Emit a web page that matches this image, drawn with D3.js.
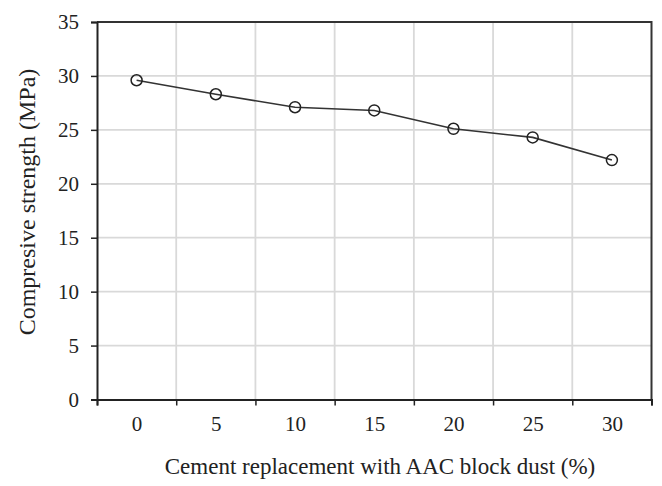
<!DOCTYPE html>
<html>
<head>
<meta charset="utf-8">
<script src="https://cdn.jsdelivr.net/npm/d3@7"></script>
<style>
  body { margin: 0; background: #fff; }
  svg text { font-family: "Liberation Serif", "Times New Roman", Times, "DejaVu Serif", serif; fill: #222; }
</style>
</head>
<body>
<div id="chart"></div>
<script>
// data
var replacement = [0, 5, 10, 15, 20, 25, 30];
var strength = [29.6, 28.3, 27.1, 26.8, 25.1, 24.3, 22.2];
var yTicks = [0, 5, 10, 15, 20, 25, 30, 35];
var xEdges = [-2.5, 2.5, 7.5, 12.5, 17.5, 22.5, 27.5, 32.5];

var serif = "Liberation Serif, Times New Roman, Times, DejaVu Serif, serif";

var W = 662, H = 486;
var margin = {top: 22, right: 10.5, bottom: 86.5, left: 97},
  width = W - margin.left - margin.right,
  height = H - margin.top - margin.bottom;

var svg = d3.select("#chart")
  .append("svg")
    .attr("width", W)
    .attr("height", H)
  .append("g")
    .attr("transform", "translate(" + margin.left + "," + margin.top + ")");

var x = d3.scaleLinear().domain([-2.5, 32.5]).range([0, width]);
var y = d3.scaleLinear().domain([0, 35]).range([height, 0]);

// gridlines
svg.append("g")
  .selectAll("line")
  .data(yTicks.slice(1, -1))
  .enter()
  .append("line")
    .attr("x1", 0).attr("x2", width)
    .attr("y1", function (d) { return y(d); })
    .attr("y2", function (d) { return y(d); })
    .style("stroke", "#d9d9d9")
    .style("stroke-width", 1.8);

svg.append("g")
  .selectAll("line")
  .data(xEdges.slice(1, -1))
  .enter()
  .append("line")
    .attr("y1", 0).attr("y2", height)
    .attr("x1", function (d) { return x(d); })
    .attr("x2", function (d) { return x(d); })
    .style("stroke", "#d9d9d9")
    .style("stroke-width", 1.8);

// frame (top and right)
svg.append("path")
  .attr("d", "M0,0H" + width + "V" + height)
  .style("fill", "none")
  .style("stroke", "#333")
  .style("stroke-width", 2);

// Y axis
var yAxis = svg.append("g")
  .call(d3.axisLeft(y).tickValues(yTicks).tickSize(6).tickPadding(12))
  .attr("font-family", serif);
yAxis.select(".domain").style("stroke", "#222").style("stroke-width", 2);
yAxis.selectAll(".tick line").style("stroke", "#222").style("stroke-width", 1.5);
yAxis.selectAll(".tick text").style("font-size", "21px").attr("fill", "#222");

// X axis: tick marks at the category edges, labels at the centres
var xAxis = svg.append("g")
  .attr("transform", "translate(0," + height + ")")
  .call(d3.axisBottom(x).tickValues(xEdges).tickSize(6).tickFormat(""));
xAxis.select(".domain").style("stroke", "#222").style("stroke-width", 2);
xAxis.selectAll(".tick line").style("stroke", "#222").style("stroke-width", 1.5);

var xLabels = svg.append("g")
  .attr("transform", "translate(0," + height + ")")
  .call(d3.axisBottom(x).tickValues(replacement).tickSize(0).tickPadding(17))
  .attr("font-family", serif);
xLabels.select(".domain").remove();
xLabels.selectAll(".tick text").style("font-size", "21px").attr("fill", "#222");

// axis titles
svg.append("text")
  .attr("text-anchor", "middle")
  .attr("x", (165 + 595) / 2 - margin.left)
  .attr("y", 474 - margin.top)
  .attr("font-family", serif)
  .text("Cement replacement with AAC block dust (%)")
  .style("font-size", "23px");

svg.append("text")
  .attr("text-anchor", "middle")
  .attr("transform", "rotate(-90)")
  .attr("x", -(202 - margin.top))
  .attr("y", 35 - margin.left)
  .attr("font-family", serif)
  .text("Compresive strength (MPa)")
  .style("font-size", "24px");

// line
var points = replacement.map(function (d, i) { return {x: d, y: strength[i]}; });
svg.append("path")
  .datum(points)
  .attr("d", d3.line()
    .x(function (d) { return x(d.x); })
    .y(function (d) { return y(d.y); }))
  .style("fill", "none")
  .style("stroke", "#333")
  .style("stroke-width", 1.6);

// markers
svg.append("g")
  .selectAll("circle")
  .data(points)
  .enter()
  .append("circle")
    .attr("cx", function (d) { return x(d.x); })
    .attr("cy", function (d) { return y(d.y); })
    .attr("r", 5.5)
    .style("fill", "none")
    .style("stroke", "#222")
    .style("stroke-width", 1.5);
</script>
</body>
</html>
